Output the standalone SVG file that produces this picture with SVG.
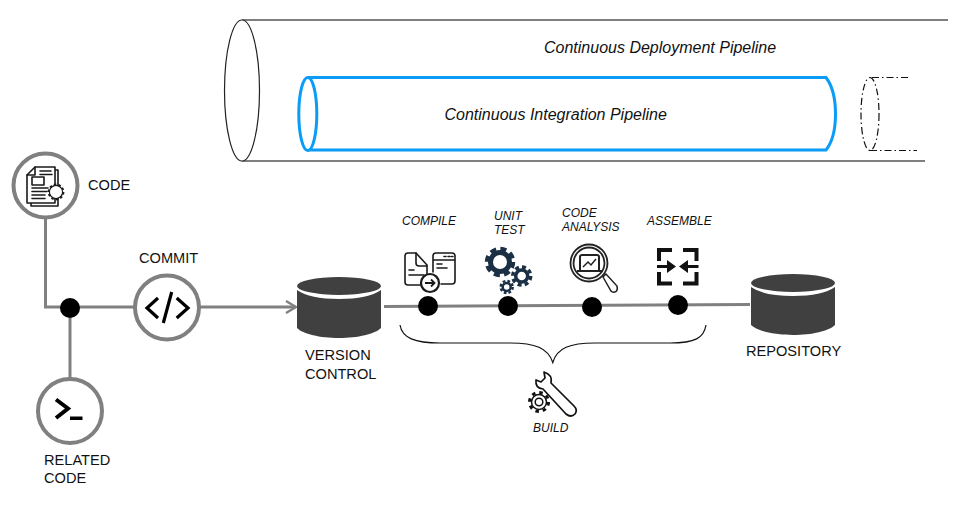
<svg xmlns="http://www.w3.org/2000/svg" width="964" height="521" viewBox="0 0 964 521">
<style>
text{font-family:"Liberation Sans",Arial,sans-serif;fill:#111}
.lb{font-size:14.6px}
.sm{font-size:12px;font-style:italic}
.pl{font-size:16px;font-style:italic}
.ring{fill:#fff;stroke:#808080;stroke-width:4}
.conn{fill:none;stroke:#808080;stroke-width:3}
.dot{fill:#000}
.db{fill:#404040}
.ic{fill:none;stroke:#1a1a1a;stroke-width:1.6;stroke-linejoin:round;stroke-linecap:round}
.ib{fill:none;stroke:#000;stroke-linejoin:miter}
.navy{fill:none;stroke:#1b2f45}
</style>
<defs>
<marker id="arr" viewBox="0 0 12 14" refX="11" refY="7" markerWidth="12" markerHeight="14" markerUnits="userSpaceOnUse" orient="auto"><path d="M1 1L11 7L1 13" fill="none" stroke="#808080" stroke-width="2.4"/></marker>
</defs>

<g id="cd-pipeline">
<path d="M242 20H948M242 161H925" fill="none" stroke="#000" stroke-width="1.2"/>
<ellipse cx="242" cy="90.5" rx="17.5" ry="70.5" fill="#fff" stroke="#222" stroke-width="1.2"/>
<text class="pl" x="544" y="53">Continuous Deployment Pipeline</text>
</g>
<g id="ci-pipeline">
<path d="M308 77.500H826Q835.500 90 835.500 114T826 150H308" fill="none" stroke="#0a9cf7" stroke-width="3"/>
<ellipse cx="307.800" cy="114" rx="9" ry="36.500" fill="#fff" stroke="#0a9cf7" stroke-width="3"/>
<text class="pl" x="444.500" y="120">Continuous Integration Pipeline</text>
</g>
<g id="next-pipeline">
<ellipse cx="870" cy="114" rx="9" ry="36.500" fill="none" stroke="#111" stroke-width="1.2" stroke-dasharray="7 3 1.500 3"/>
<path d="M872 77.500H908M870 150.500H917" fill="none" stroke="#111" stroke-width="1.2" stroke-dasharray="7 3 1.500 3"/>
</g>

<g id="connectors">
<path class="conn" d="M45.500 218V307H135"/>
<path class="conn" d="M70 308V380"/>
<path class="conn" d="M200 307H296" marker-end="url(#arr)"/>
<path class="conn" d="M384 306.500L750 304.500"/>
<path d="M400 325C402 338 415 343 440 343H510C535 343 548 348 552.800 362.500C557 348 570 343 595 343H670C695 343 704 338 706 325" fill="none" stroke="#111" stroke-width="1.200"/>
</g>

<g id="junction"><circle class="dot" cx="70" cy="308" r="10"/></g>

<g id="code">
<circle class="ring" cx="45.500" cy="185.500" r="32"/>
<g class="ic">
<path d="M31 203V206H58V170H55"/>
<path d="M35 167H55V203H27V175Z" fill="#fff"/>
<path d="M27 175H35V167M40 171H51M40 174.500H52"/>
<rect x="32" y="177" width="12" height="8"/>
<path d="M32 188H48M32 191.500H47M32 195H45M32 198.500H45"/>
<circle cx="56" cy="192" r="6.500" fill="#fff" stroke-width="1.400"/>
<circle cx="56" cy="192" r="7.500" stroke-width="1.800" stroke-dasharray="2.500 2.200" stroke-linecap="butt"/>
<circle cx="56" cy="192" r="5.800" fill="#fff" stroke="none"/>
</g>
<text class="lb" x="88" y="190">CODE</text>
</g>

<g id="commit">
<circle class="ring" cx="167" cy="307.500" r="32"/>
<path class="ib" stroke-width="3.200" d="M158 298L147 308L158 318M176.700 298L188 308L176.700 318M171.700 292L163.300 323"/>
<text class="lb" x="139" y="263">COMMIT</text>
</g>

<g id="related">
<circle class="ring" cx="70" cy="411" r="32"/>
<path class="ib" stroke-width="4" d="M56 399.500L68 408.500L56 418"/>
<rect x="70" y="416.500" width="12.500" height="3.500" fill="#000"/>
<text class="lb" x="44" y="465">RELATED</text>
<text class="lb" x="44" y="483">CODE</text>
</g>

<g id="version-control">
<path class="db" d="M297 290Q310 299 339 299T381 290V328C375 334 358 338 339 338S303 334 297 328Z"/>
<ellipse class="db" cx="339" cy="286" rx="42" ry="9"/>
<text class="lb" x="305" y="360">VERSION</text>
<text class="lb" x="305" y="379">CONTROL</text>
</g>

<g id="compile">
<path class="ic" stroke-width="2.200" d="M424 285H408Q405 285 405 282V256Q405 253 408 253H416L427 265V275"/>
<path class="ic" stroke-width="2.200" d="M416 253V263Q416 266 419 266H427M409 270H414M409 275H424"/>
<path class="ic" stroke-width="2.200" d="M433 272V256Q433 253 436 253H452Q455 253 455 256V281Q455 284 452 284H441M433 260H455M444 256.500H446M448 256.500H450M451.500 256.500H453M437 264H442M437 268H447"/>
<circle cx="430" cy="283" r="9" fill="#fff" stroke="#1a1a1a" stroke-width="2.200"/>
<path d="M425 283H434M431 279.500L434.500 283L431 286.500" fill="none" stroke="#1a1a1a" stroke-width="1.800"/>
<circle class="dot" cx="428" cy="306" r="10"/>
<text class="sm" x="402" y="225">COMPILE</text>
</g>

<g id="unit-test">
<circle class="navy" cx="500" cy="262" r="9.500" stroke-width="5"/>
<circle class="navy" cx="500" cy="262" r="13" stroke-width="4.500" stroke-dasharray="6 4.210"/>
<circle class="navy" cx="521.700" cy="276" r="6" stroke-width="3.500"/>
<circle class="navy" cx="521.700" cy="276" r="9" stroke-width="3.500" stroke-dasharray="4 3.070"/>
<circle class="navy" cx="506.700" cy="287" r="4" stroke-width="2.500"/>
<circle class="navy" cx="506.700" cy="287" r="6" stroke-width="2.500" stroke-dasharray="2.700 2.010"/>
<circle class="dot" cx="508" cy="306" r="10"/>
<text class="sm" x="494" y="220">UNIT</text>
<text class="sm" x="494" y="234">TEST</text>
</g>

<g id="code-analysis">
<circle cx="589" cy="263" r="18.500" fill="none" stroke="#222" stroke-width="1.800"/>
<circle cx="589" cy="263" r="15.500" fill="none" stroke="#222" stroke-width="1.800"/>
<path d="M580 270V257Q580 255 582 255H597Q599 255 599 257V270M577 271H602" fill="none" stroke="#222" stroke-width="2"/>
<path d="M583 267L588 262L591 265L596 259" fill="none" stroke="#222" stroke-width="1.500"/>
<path d="M603 277L606 274L617 286Q618 290 616 291.500Q613 293 611 291Z" fill="#fff" stroke="#222" stroke-width="1.500"/>
<circle class="dot" cx="592" cy="307" r="10"/>
<text class="sm" x="562" y="217">CODE</text>
<text class="sm" x="562" y="231">ANALYSIS</text>
</g>

<g id="assemble">
<path d="M672 250H659V261M683 250H696.500V261M672 283.500H659V272M683 283.500H696.500V272" fill="none" stroke="#111" stroke-width="4"/>
<path d="M657 266.500H669M686 266.500H698.500" fill="none" stroke="#111" stroke-width="3"/>
<path d="M667 260L676 266.500L667 273ZM688 260L679 266.500L688 273Z" fill="#111"/>
<circle class="dot" cx="678" cy="305" r="10"/>
<text class="sm" x="647" y="225">ASSEMBLE</text>
</g>

<g id="repository">
<path class="db" d="M751 287Q764 296 793 296T835 287V325C829 331 812 335 793 335S757 331 751 325Z"/>
<ellipse class="db" cx="793" cy="283" rx="42" ry="9"/>
<text class="lb" x="746" y="356">REPOSITORY</text>
</g>

<g id="build">
<path d="M544 372L545 378L541 382L536 380Q535 388 543 389L566 414Q571 418 575 414Q578 410 574 406L551 383Q553 375 544 372Z" fill="#fff" stroke="#111" stroke-width="1.700" stroke-linejoin="round"/>
<circle cx="539" cy="402" r="7.500" fill="#fff" stroke="#111" stroke-width="1.500"/>
<circle cx="539" cy="402" r="3.800" fill="none" stroke="#111" stroke-width="1.500"/>
<circle cx="539" cy="402" r="9.500" fill="none" stroke="#111" stroke-width="3" stroke-dasharray="3.500 3.960"/>
<text class="sm" x="533" y="432">BUILD</text>
</g>
</svg>
